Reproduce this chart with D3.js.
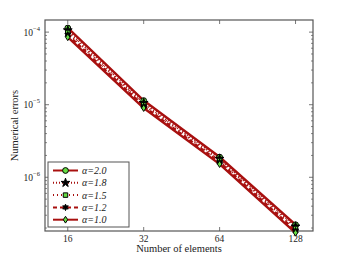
<!DOCTYPE html>
<html>
<head>
<meta charset="utf-8">
<script src="https://cdn.jsdelivr.net/npm/d3@7"></script>
<style>
body { margin: 0; background: #fff; }
text { font-family: "Liberation Serif", "DejaVu Serif", serif; fill: #222; }
</style>
</head>
<body>
<div id="chart"></div>
<script>
var elements = [16, 32, 64, 128];
var alphas = ['2.0', '1.8', '1.5', '1.2', '1.0'];
var errA20 = [1.14e-4, 1.14e-5, 1.90e-6, 2.22e-7];
var errA18 = [1.06e-4, 1.06e-5, 1.80e-6, 2.10e-7];
var errA15 = [9.9e-5, 1.00e-5, 1.70e-6, 1.97e-7];
var errA12 = [9.2e-5, 9.5e-6, 1.61e-6, 1.84e-7];
var errA10 = [8.5e-5, 9.0e-6, 1.52e-6, 1.72e-7];
var yTicks = [1e-4, 1e-5, 1e-6];
var yTickExp = ['\u22124', '\u22125', '\u22126'];

var series = [
	{name: alphas[0], values: errA20, dash: null, marker: 'circle', fill: '#66dd44'},
	{name: alphas[1], values: errA18, dash: '1,2', marker: 'star', fill: '#000'},
	{name: alphas[2], values: errA15, dash: '1,3', marker: 'square', fill: '#66dd44'},
	{name: alphas[3], values: errA12, dash: '4,3', marker: 'star6', fill: '#000'},
	{name: alphas[4], values: errA10, dash: null, marker: 'diamond', fill: '#66dd44'}
];

var width = 346, height = 261;
var margin = {top: 20, right: 33, bottom: 30, left: 45};
var w = width - margin.left - margin.right;
var h = height - margin.top - margin.bottom;
var red = '#a8100f';

var svg = d3.select('#chart').append('svg')
	.attr('width', width)
	.attr('height', height);
var g = svg.append('g')
	.attr('transform', `translate(${margin.left}, ${margin.top})`);

var x = d3.scaleLog().base(2)
	.domain([Math.pow(2, 3.7), Math.pow(2, 7.23)])
	.range([0, w]);
var y = d3.scaleLog()
	.domain([Math.pow(10, -6.74), Math.pow(10, -3.833)])
	.range([h, 0]);

// frame
g.append('rect')
	.attr('width', w).attr('height', h)
	.attr('fill', 'none').attr('stroke', '#555').attr('stroke-width', 1.2);

// y ticks, major and minor, both sides
var minor = [];
for (var e = -7; e <= -3; e++) {
	for (var m = 2; m <= 9; m++) {
		var v = m * Math.pow(10, e);
		if (v > y.domain()[0] && v < y.domain()[1]) minor.push(v);
	}
}
[0, w].forEach(function(x0) {
	var dir = x0 === 0 ? 1 : -1;
	g.selectAll(null).data(yTicks).enter().append('line')
		.attr('x1', x0).attr('x2', x0 + dir * 4)
		.attr('y1', d => y(d)).attr('y2', d => y(d))
		.attr('stroke', '#555').attr('stroke-width', 0.8);
	g.selectAll(null).data(minor).enter().append('line')
		.attr('x1', x0).attr('x2', x0 + dir * 2)
		.attr('y1', d => y(d)).attr('y2', d => y(d))
		.attr('stroke', '#555').attr('stroke-width', 0.7);
});
[0, h].forEach(function(y0) {
	var dir = y0 === 0 ? 1 : -1;
	g.selectAll(null).data(elements).enter().append('line')
		.attr('x1', d => x(d)).attr('x2', d => x(d))
		.attr('y1', y0).attr('y2', y0 + dir * 4)
		.attr('stroke', '#555').attr('stroke-width', 0.8);
});

var yl = g.selectAll(null).data(yTicks).enter().append('text')
	.attr('x', -5).attr('y', d => y(d) + 3.5)
	.attr('text-anchor', 'end')
	.attr('font-size', 9.5);
yl.append('tspan').text('10');
yl.append('tspan').attr('dy', -5).attr('font-size', 6.5).text((d, i) => yTickExp[i]);

g.selectAll(null).data(elements).enter().append('text')
	.attr('x', d => x(d)).attr('y', h + 11)
	.attr('text-anchor', 'middle')
	.attr('font-size', 9.5)
	.text(d => d);

g.append('text')
	.attr('x', w / 2).attr('y', h + 21)
	.attr('text-anchor', 'middle').attr('font-size', 10.5)
	.text('Number of elements');
g.append('text')
	.attr('transform', `translate(${-27}, ${h / 2}) rotate(-90)`)
	.attr('text-anchor', 'middle').attr('font-size', 10.5)
	.text('Numerical errors');

function markerPath(type) {
	if (type === 'star6') {
		var pts = [];
		for (var i = 0; i < 12; i++) {
			var r = i % 2 ? 1.6 : 3.2;
			var a = Math.PI / 6 * i - Math.PI / 2;
			pts.push([r * Math.cos(a), r * Math.sin(a)]);
		}
		return 'M' + pts.join('L') + 'Z';
	}
	if (type === 'diamond') return 'M0,-3.4L2.2,0L0,3.4L-2.2,0Z';
	var sym = {circle: d3.symbolCircle, star: d3.symbolStar, square: d3.symbolSquare}[type];
	var size = {circle: 26, star: 24, square: 20}[type];
	return d3.symbol().type(sym).size(size)();
}

function drawMarker(sel, s) {
	return sel.append('path')
		.attr('d', markerPath(s.marker))
		.attr('fill', s.fill)
		.attr('stroke', '#000')
		.attr('stroke-width', 1);
}

var line = d3.line()
	.x(d => x(d[0]))
	.y(d => y(d[1]));

series.forEach(function(s) {
	g.append('path')
		.datum(elements.map((e, i) => [e, s.values[i]]))
		.attr('d', line)
		.attr('fill', 'none')
		.attr('stroke', red)
		.attr('stroke-width', 2.4)
		.attr('stroke-dasharray', s.dash);
});
series.forEach(function(s) {
	elements.forEach(function(e, i) {
		var mg = g.append('g').attr('transform', `translate(${x(e)}, ${y(s.values[i])})`);
		drawMarker(mg, s);
	});
});

// legend
var lg = g.append('g').attr('transform', 'translate(3, 142)');
lg.append('rect')
	.attr('width', 81).attr('height', 65)
	.attr('fill', '#fff').attr('stroke', '#555').attr('stroke-width', 1);
series.forEach(function(s, i) {
	var row = lg.append('g').attr('transform', `translate(0, ${8.5 + i * 12.3})`);
	row.append('line')
		.attr('x1', 5).attr('x2', 30)
		.attr('stroke', red).attr('stroke-width', 2)
		.attr('stroke-dasharray', s.dash);
	drawMarker(row.append('g').attr('transform', 'translate(17.5, 0)'), s);
	row.append('text')
		.attr('x', 34).attr('y', 3.5)
		.attr('font-size', 10).attr('font-style', 'italic')
		.attr('fill', '#433')
		.text('\u03b1=' + s.name);
});
</script>
</body>
</html>
